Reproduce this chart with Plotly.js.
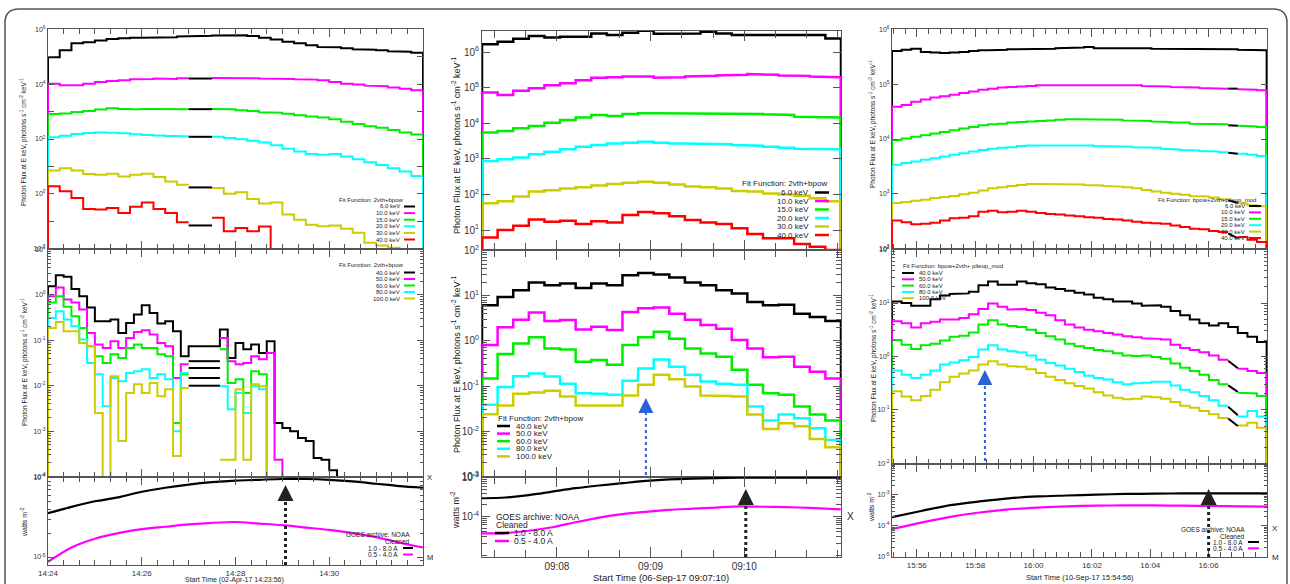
<!DOCTYPE html>
<html><head><meta charset="utf-8">
<script src="https://cdn.plot.ly/plotly-3.0.1.min.js"></script>
<style>html,body{margin:0;padding:0;background:#fff;}#chart{width:1290px;height:584px;}</style>
</head><body><div id="chart"></div>
<script>
// ================= DATA (log10 of flux / GOES level) =================
// ---- Column 1: 02-Apr-17, start 14:24:00 ----
const c1Base = '2017-04-02 14:24:00';
const c1TopBinSec = 15;
const c1Top6keV  = [4.99,5.24,5.50,5.54,5.60,5.65,5.68,5.70,5.70,5.71,5.72,5.75,5.76,5.77,5.78,5.79,5.79,5.76,5.70,5.64,5.55,5.50,5.43,5.36,5.35,5.32,5.28,5.26,5.24,5.21,5.19,5.15];
const c1Top10keV = [4.02,3.96,3.96,4.02,4.08,4.12,4.15,4.18,4.19,4.21,4.19,4.22,null,null,4.23,4.24,4.23,4.22,4.21,4.21,4.19,4.18,4.17,4.15,4.08,4.02,3.99,3.95,3.93,3.88,3.84,3.78];
const c1Top15keV = [2.91,2.93,2.99,3.02,3.08,3.12,3.10,3.09,3.10,3.10,3.10,3.09,null,null,3.10,3.09,3.05,3.02,2.98,2.96,2.92,2.87,2.82,2.79,2.72,2.63,2.55,2.47,2.41,2.33,2.24,2.16];
const c1Top20keV = [2.06,2.12,2.18,2.22,2.24,2.23,2.21,2.17,2.15,2.13,2.11,2.10,null,null,2.08,2.04,1.99,1.94,1.87,1.77,1.64,1.54,1.45,1.42,1.45,1.36,1.26,1.15,1.05,0.93,0.81,0.65];
const c1Top30keV = [0.85,0.93,0.85,0.72,0.69,0.73,0.63,0.69,0.73,0.61,0.45,0.33,null,null,0.21,0.00,0.05,-0.19,-0.36,-0.32,-0.76,-0.95,-1.13,-1.19,-1.16,-1.28,-1.43,-1.79,-1.89,-1.97];
const c1Top40keV = [0.27,0.09,-0.16,-0.56,-0.58,-0.52,-0.70,-0.48,-0.32,-0.56,-0.70,-1.04,null,null,-0.88,-1.37,-1.25,-1.37,-1.20];
const c1TopGapBins = [12, 14];
const c1TopGapLog = [null, 4.21, 3.09, 2.08, 0.23, -1.16];

const c1MidBinSec = 10;
const c1Mid40keV  = [0.19,0.43,0.40,0.13,-0.03,-0.28,-0.58,-0.58,-0.54,-0.84,-0.62,-0.43,-0.23,-0.40,-0.63,-0.58,-0.80,-1.35,-1.13,-1.13,-1.13,-1.13,-0.76,-1.39,-1.06,-1.20,-1.09,-1.28,-1.02,-2.82,-2.93,-3.00,-3.15,-3.22,-3.59,-3.63,-3.86];
const c1Mid50keV  = [-0.03,0.16,-0.10,-0.17,-0.32,-0.84,-1.09,-1.17,-1.02,-1.17,-0.95,-0.82,-0.78,-0.87,-1.06,-1.13,-1.83,-1.53,null,null,null,null,-0.95,-1.46,-1.53,-1.50,-1.35,-1.42,-1.28,-3.63];
const c1Mid60keV  = [-0.17,-0.03,-0.26,-0.47,-0.73,-1.13,-1.35,-1.50,-1.31,-1.39,-1.17,-1.09,-1.17,-1.17,-1.31,-1.35,-2.82,-1.75,null,null,null,null,-1.20,-1.94,-1.86,-2.16,-1.68,-1.75];
const c1Mid80keV  = [-0.51,-0.36,-0.54,-0.69,-0.98,-1.50,-1.75,-2.45,-1.83,-1.90,-1.72,-1.68,-1.64,-1.83,-1.75,-1.86,-3.00,-1.72,null,null,null,null,-2.01,-2.52,-2.16,-2.60,-2.01,-2.08];
const c1Mid100keV = [-0.73,-0.60,-0.80,-0.80,-1.06,-1.13,-2.60,-4.5,-1.79,-3.22,-2.16,-1.97,-2.16,-1.94,-2.23,-2.08,-3.55,-2.05,null,null,null,null,-3.63,-3.63,-2.08,-3.63,-1.97,-2.01];
const c1MidGapBins = [18, 22];
const c1MidGapLog = [null, -1.46, -1.61, -1.83, -2.00];

const c1GoesMin   = [0,0.5,1,1.5,2,2.5,3,3.5,4,4.5,5,5.5,6,6.5,7,7.5,8];
const c1GoesLong  = [-4.45,-4.37,-4.30,-4.25,-4.18,-4.13,-4.09,-4.06,-4.04,-4.03,-4.02,-4.02,-4.03,-4.05,-4.08,-4.11,-4.13];
const c1GoesShort = [-5.06,-4.88,-4.77,-4.70,-4.65,-4.62,-4.59,-4.57,-4.56,-4.58,-4.60,-4.63,-4.66,-4.70,-4.75,-4.82,-4.88];
const c1TimeTicks = ['14:24','14:26','14:28','14:30'];

// ---- Column 2: 06-Sep-17, start 09:07:12 ----
const c2Base = '2017-09-06 09:07:12';
const c2BinSec = 10;
const c2Top6keV  = [6.22,6.29,6.37,6.45,6.41,6.43,6.43,6.52,6.48,6.54,6.60,6.51,6.52,6.52,6.57,6.52,6.48,6.46,6.46,6.46,6.48,6.48,6.38];
const c2Top10keV = [4.86,4.79,4.91,4.98,5.07,5.12,5.21,5.28,5.29,5.31,5.31,5.28,5.29,5.31,5.33,5.34,5.36,5.38,5.36,5.34,5.33,5.31,5.29];
const c2Top15keV = [3.74,3.78,3.86,3.92,4.01,4.09,4.16,4.23,4.20,4.26,4.28,4.28,4.27,4.27,4.26,4.26,4.27,4.26,4.25,4.23,4.18,4.16,4.16];
const c2Top20keV = [2.94,2.99,3.04,3.13,3.20,3.27,3.34,3.39,3.43,3.45,3.48,3.45,3.43,3.43,3.42,3.41,3.39,3.37,3.34,3.31,3.28,3.28,3.27];
const c2Top30keV = [1.75,1.81,1.94,2.08,2.12,2.17,2.20,2.25,2.29,2.33,2.36,2.33,2.28,2.22,2.20,2.17,2.10,2.08,2.03,2.00,1.96,1.89,1.81];
const c2Top40keV = [0.79,1.00,1.12,1.30,1.23,1.26,1.17,1.25,1.21,1.42,1.51,1.47,1.39,1.28,1.21,1.17,1.05,0.89,0.77,0.77,0.61,0.53,0.44];
const c2Mid40keV  = [0.79,0.97,1.12,1.29,1.23,1.27,1.17,1.27,1.23,1.45,1.50,1.47,1.40,1.29,1.23,1.12,1.05,0.86,0.79,0.80,0.60,0.53,0.44];
const c2Mid50keV  = [-0.09,0.30,0.47,0.63,0.44,0.46,0.25,0.31,0.24,0.64,0.72,0.74,0.60,0.47,0.35,0.27,0.02,-0.17,-0.36,-0.35,-0.57,-0.68,-0.83];
const c2Mid60keV  = [-0.83,-0.29,-0.06,0.08,-0.17,-0.19,-0.46,-0.42,-0.53,-0.09,0.08,0.20,0.05,-0.17,-0.28,-0.35,-0.64,-0.97,-1.16,-1.19,-1.45,-1.63,-1.76];
const c2Mid80keV  = [-1.41,-1.02,-0.78,-0.72,-0.79,-0.95,-1.16,-1.17,-1.19,-0.88,-0.61,-0.41,-0.57,-0.75,-0.90,-0.95,-0.97,-1.45,-1.76,-1.63,-1.71,-1.93,-2.19];
const c2Mid100keV = [-1.62,-1.43,-1.17,-1.14,-1.10,-1.23,-1.43,-1.43,-1.43,-1.21,-0.97,-0.75,-0.85,-1.01,-1.21,-1.22,-1.23,-1.63,-1.95,-1.82,-1.89,-2.17,-2.35];
const c2GoesMin   = [0,0.25,0.5,0.75,1,1.25,1.5,1.75,2,2.25,2.5,2.75,3,3.25,3.5,3.83];
const c2GoesLong  = [-3.53,-3.51,-3.45,-3.36,-3.27,-3.20,-3.14,-3.08,-3.04,-3.02,-3.01,-3.00,-3.00,-3.00,-3.00,-3.00];
const c2GoesShort = [-4.44,-4.43,-4.37,-4.28,-4.15,-4.03,-3.94,-3.88,-3.83,-3.80,-3.77,-3.74,-3.75,-3.76,-3.78,-3.82];
const c2TimeTicks = ['09:08','09:09','09:10'];

// ---- Column 3: 10-Sep-17, start 15:55:09 ----
const c3Base = '2017-09-10 15:55:09';
const c3BinSec = 19.75;
const c3Top6keV  = [5.61,5.63,5.65,5.59,5.58,5.57,5.58,5.59,5.61,5.62,5.62,5.63,5.64,5.64,5.65,5.65,5.65,5.66,5.67,5.67,5.68,5.66,5.66,5.67,5.67,5.66,5.66,5.65,5.65,5.64,5.64,5.64,5.64,5.65,5.64,5.64,5.63,5.62,5.62];
const c3Top10keV = [4.59,4.62,4.68,4.72,4.76,4.78,4.81,4.84,4.87,4.90,4.92,4.94,4.95,4.96,4.97,4.98,4.98,4.99,4.99,4.99,4.99,4.99,4.99,4.98,4.98,4.98,4.97,4.96,4.96,4.95,4.95,4.94,4.93,4.93,4.92,null,4.91,4.90,4.89];
const c3Top15keV = [3.98,4.01,4.04,4.07,4.10,4.13,4.16,4.19,4.22,4.25,4.27,4.28,4.30,4.31,4.32,4.33,4.34,4.35,4.36,4.36,4.35,4.35,4.35,4.35,4.34,4.33,4.33,4.32,4.31,4.30,4.30,4.28,4.28,4.27,4.27,null,4.24,4.23,4.22];
const c3Top20keV = [3.53,3.56,3.59,3.62,3.65,3.68,3.71,3.74,3.77,3.80,3.82,3.84,3.85,3.87,3.88,3.88,3.89,3.89,3.89,3.88,3.88,3.87,3.87,3.86,3.86,3.85,3.84,3.84,3.82,3.81,3.80,3.79,3.78,3.77,3.76,null,3.73,3.71,3.69];
const c3Top30keV = [2.83,2.85,2.87,2.89,2.92,2.94,2.96,2.99,3.02,3.06,3.10,3.12,3.14,3.16,3.18,3.18,3.17,3.17,3.18,3.17,3.16,3.15,3.14,3.13,3.12,3.10,3.07,3.04,3.02,3.00,2.98,2.96,2.95,2.93,2.90,null,2.82,2.79,2.77];
const c3Top40keV = [2.51,2.48,2.44,2.45,2.47,2.51,2.55,2.56,2.59,2.67,2.69,2.66,2.67,2.69,2.67,2.65,2.63,2.62,2.60,2.59,2.57,2.56,2.54,2.53,2.51,2.49,2.47,2.46,2.45,2.42,2.39,2.36,2.35,2.32,2.30,null,2.21,2.16,2.12];
const c3TopGapBins = [35, 36];
const c3TopGapStart = [null, 4.92, 4.25, 3.75, 2.88, 2.27];
const c3TopGapEnd   = [null, 4.92, 4.24, 3.73, 2.83, 2.19];
const c3Mid40keV  = [1.03,1.00,0.95,0.95,1.07,1.14,1.17,1.18,1.21,1.33,1.40,1.34,1.34,1.40,1.37,1.35,1.29,1.26,1.23,1.19,1.16,1.10,1.07,1.03,1.03,0.99,0.95,0.96,0.93,0.85,0.77,0.69,0.62,0.58,0.62,0.55,0.44,0.37,0.27];
const c3Mid50keV  = [0.66,0.62,0.54,0.62,0.65,0.69,0.69,0.72,0.79,0.89,0.99,0.93,0.88,0.89,0.87,0.82,0.77,0.68,0.60,0.54,0.50,0.47,0.44,0.41,0.38,0.36,0.34,0.33,0.32,0.22,0.16,0.12,0.08,0.02,-0.06,null,-0.23,-0.27,-0.31];
const c3Mid60keV  = [0.31,0.22,0.14,0.21,0.24,0.30,0.37,0.39,0.45,0.60,0.68,0.60,0.57,0.55,0.50,0.44,0.38,0.32,0.24,0.19,0.16,0.12,0.10,0.06,0.02,0.01,0.02,-0.01,-0.04,-0.13,-0.21,-0.27,-0.34,-0.44,-0.52,null,-0.68,-0.69,-0.74];
const c3Mid80keV  = [-0.26,-0.34,-0.40,-0.34,-0.26,-0.15,-0.11,-0.07,-0.01,0.13,0.21,0.13,0.10,0.08,0.02,-0.06,-0.12,-0.17,-0.23,-0.29,-0.36,-0.40,-0.43,-0.48,-0.52,-0.50,-0.49,-0.47,-0.47,-0.54,-0.62,-0.67,-0.74,-0.82,-0.92,null,-1.12,-1.02,-1.12];
const c3Mid100keV = [-0.65,-0.75,-0.82,-0.74,-0.62,-0.48,-0.38,-0.32,-0.26,-0.15,-0.09,-0.15,-0.18,-0.19,-0.24,-0.31,-0.38,-0.44,-0.50,-0.55,-0.60,-0.67,-0.73,-0.77,-0.80,-0.79,-0.75,-0.76,-0.79,-0.85,-0.92,-0.96,-1.02,-1.08,-1.15,null,-1.29,-1.24,-1.33];
const c3MidGapStart = [null, -0.08, -0.54, -0.94, -1.16];
const c3MidGapEnd   = [null, -0.22, -0.66, -1.10, -1.30];
const c3GoesMin   = [0,1,2,3,4,5,6,7,8,9,10,11,12,12.85];
const c3GoesLong  = [-3.72,-3.52,-3.33,-3.21,-3.11,-3.05,-3.02,-2.99,-2.97,-2.96,-2.95,-2.95,-2.95,-2.95];
const c3GoesShort = [-4.11,-3.90,-3.71,-3.57,-3.47,-3.41,-3.37,-3.35,-3.34,-3.34,-3.35,-3.36,-3.37,-3.38];
const c3TimeTicks = ['15:56','15:58','16:00','16:02','16:04','16:06'];

const topLabels = ['6.0 keV','10.0 keV','15.0 keV','20.0 keV','30.0 keV','40.0 keV'];
const midLabels = ['40.0 keV','50.0 keV','60.0 keV','80.0 keV','100.0 keV'];
const goesLabels = ['1.0 - 8.0 A','0.5 - 4.0 A'];

// ================= STYLE / HELPERS =================
const FONT = 'Liberation Sans, Arial, Helvetica, sans-serif';
const W = 1290, H = 584;
const px = x => x / W, py = y => 1 - y / H;
const TOPC = ['#000000','#ff00ff','#00ee00','#00ffff','#cccc00','#ff0000'];
const MIDC = ['#000000','#ff00ff','#00ee00','#00ffff','#cccc00'];
const GOESC = ['#000000','#ff00ff'];

function timeAt(base, sec) {
  const [d, t] = base.split(' ');
  const [Y, M, D] = d.split('-').map(Number);
  const [h, m, s] = t.split(':').map(Number);
  const dt = new Date(Date.UTC(Y, M - 1, D, h, m, s) + Math.round(sec * 1000));
  const p = (n, l) => String(n).padStart(l || 2, '0');
  return dt.getUTCFullYear() + '-' + p(dt.getUTCMonth() + 1) + '-' + p(dt.getUTCDate()) + ' ' +
    p(dt.getUTCHours()) + ':' + p(dt.getUTCMinutes()) + ':' + p(dt.getUTCSeconds()) + '.' + p(dt.getUTCMilliseconds(), 3);
}
const LOW = 1e-12;
function stepXY(base, binSec, vals) {
  const x = [], y = [];
  const first = vals.findIndex(v => v !== null);
  x.push(timeAt(base, first * binSec)); y.push(LOW);
  let last = first;
  vals.forEach((v, k) => {
    if (v === null) { x.push(null); y.push(null); return; }
    const f = Math.pow(10, v);
    x.push(timeAt(base, k * binSec), timeAt(base, (k + 1) * binSec));
    y.push(f, f);
    last = k;
  });
  x.push(timeAt(base, (last + 1) * binSec)); y.push(LOW);
  return {x, y};
}
const traces = [];
function addSteps(id, base, binSec, list, colors, width) {
  list.forEach((vals, i) => {
    const s = stepXY(base, binSec, vals);
    traces.push({type:'scatter', mode:'lines', x:s.x, y:s.y, xaxis:'x' + id, yaxis:'y' + id,
      line:{color:colors[i], width:width}, connectgaps:false, hoverinfo:'skip'});
  });
}
function addGaps(id, base, binSec, bins, startLog, endLog, width) {
  startLog.forEach((v, i) => {
    if (v === null) return;
    traces.push({type:'scatter', mode:'lines', x:[timeAt(base, bins[0] * binSec), timeAt(base, bins[1] * binSec)],
      y:[Math.pow(10, v), Math.pow(10, endLog[i])], xaxis:'x' + id, yaxis:'y' + id,
      line:{color:'#000', width:width}, hoverinfo:'skip'});
  });
}
function addGoes(id, base, mins, list, width) {
  list.forEach((vals, i) => {
    traces.push({type:'scatter', mode:'lines', x:mins.map(m => timeAt(base, m * 60)), y:vals.map(v => Math.pow(10, v)),
      xaxis:'x' + id, yaxis:'y' + id, line:{color:GOESC[i], width:width, shape:'spline', smoothing:0.8}, hoverinfo:'skip'});
  });
}

// Column 1
addSteps(1, c1Base, c1TopBinSec, [c1Top6keV, c1Top10keV, c1Top15keV, c1Top20keV, c1Top30keV, c1Top40keV], TOPC, 2);
addGaps(1, c1Base, c1TopBinSec, c1TopGapBins, c1TopGapLog, c1TopGapLog, 2);
addSteps(2, c1Base, c1MidBinSec, [c1Mid40keV, c1Mid50keV, c1Mid60keV, c1Mid80keV, c1Mid100keV], MIDC, 2);
addGaps(2, c1Base, c1MidBinSec, c1MidGapBins, c1MidGapLog, c1MidGapLog, 2);
addGoes(3, c1Base, c1GoesMin, [c1GoesLong, c1GoesShort], 2.2);
// Column 2
addSteps(4, c2Base, c2BinSec, [c2Top6keV, c2Top10keV, c2Top15keV, c2Top20keV, c2Top30keV, c2Top40keV], TOPC, 2.5);
addSteps(5, c2Base, c2BinSec, [c2Mid40keV, c2Mid50keV, c2Mid60keV, c2Mid80keV, c2Mid100keV], MIDC, 2.5);
addGoes(6, c2Base, c2GoesMin, [c2GoesLong, c2GoesShort], 2.2);
// Column 3
addSteps(7, c3Base, c3BinSec, [c3Top6keV, c3Top10keV, c3Top15keV, c3Top20keV, c3Top30keV, c3Top40keV], TOPC, 2);
addGaps(7, c3Base, c3BinSec, c3TopGapBins, c3TopGapStart, c3TopGapEnd, 2);
addSteps(8, c3Base, c3BinSec, [c3Mid40keV, c3Mid50keV, c3Mid60keV, c3Mid80keV, c3Mid100keV], MIDC, 2);
addGaps(8, c3Base, c3BinSec, c3TopGapBins, c3MidGapStart, c3MidGapEnd, 2);
addGoes(9, c3Base, c3GoesMin, [c3GoesLong, c3GoesShort], 2.2);

// ================= LAYOUT =================
const geom = {
  1:{x:[48,423], y:[29,249]}, 2:{x:[48,423], y:[249,477]}, 3:{x:[48,423], y:[477,565]},
  4:{x:[482,841], y:[31,250]}, 5:{x:[482,841], y:[250,477]}, 6:{x:[482,841], y:[477,557]},
  7:{x:[892,1267], y:[29,249]}, 8:{x:[892,1267], y:[249,464]}, 9:{x:[892,1267], y:[464,557]}
};
const colSpec = [
  {ids:[1,2,3], day:'2017-04-02', ticks:c1TimeTicks, xr:['2017-04-02 14:24:00','2017-04-02 14:32:00'], mtick0:'2017-04-02 14:24:00', minor:20000, tf:7, xtf:8, tl:6},
  {ids:[4,5,6], day:'2017-09-06', ticks:c2TimeTicks, xr:['2017-09-06 09:07:12','2017-09-06 09:11:02'], mtick0:'2017-09-06 09:08:00', minor:20000, tf:10, xtf:10, tl:8},
  {ids:[7,8,9], day:'2017-09-10', ticks:c3TimeTicks, xr:['2017-09-10 15:55:09','2017-09-10 16:08:00'], mtick0:'2017-09-10 15:56:00', minor:24000, tf:7, xtf:8, tl:6}
];
// major decades that carry a label; unlabeled decades get a plain tick
const ySpec = {
  1:{r:[-2.02,6.02], lab:[-2,0,2,4,6], plain:[-1,1,3,5], minor:false},
  2:{r:[-4.01,1.01], lab:[-4,-3,-2,-1,0,1], plain:[], minor:true},
  3:{r:[-5.1,-3.995], lab:[-5,-4], plain:[], minor:true},
  4:{r:[0.44,6.59], lab:[1,2,3,4,5,6], plain:[], minor:false},
  5:{r:[-3.01,2.01], lab:[-3,-2,-1,0,1,2], plain:[], minor:true},
  6:{r:[-5.05,-2.98], lab:[-4,-3], plain:[-5], minor:true},
  7:{r:[1.99,6.01], lab:[2,3,4,5,6], plain:[], minor:false},
  8:{r:[-2.01,2.01], lab:[-2,-1,0,1,2], plain:[], minor:true},
  9:{r:[-5.01,-2.0], lab:[-5,-4,-3], plain:[-2], minor:true}
};
const AX = '#555';
const layout = {width:W, height:H, margin:{l:0,r:0,t:0,b:0}, paper_bgcolor:'#fff', plot_bgcolor:'#fff',
  showlegend:false, font:{family:FONT, color:'#222'}, shapes:[], annotations:[]};

colSpec.forEach(cs => {
  cs.ids.forEach((id, row) => {
    const g = geom[id], ys = ySpec[id];
    layout['xaxis' + id] = {type:'date', domain:[px(g.x[0]), px(g.x[1])], range:cs.xr, anchor:'y' + id,
      tickmode:'array', tickvals:cs.ticks.map(t => cs.day + ' ' + t + ':00'), ticktext:cs.ticks,
      showticklabels:row === 2,
      ticks:'inside', ticklen:cs.tl + 2, tickwidth:1, tickcolor:AX, showline:true, linecolor:AX, linewidth:1,
      mirror:'ticks', showgrid:false, zeroline:false, tickfont:{family:FONT, size:cs.xtf, color:'#333'},
      minor:{tickmode:'linear', dtick:cs.minor, tick0:cs.mtick0, ticks:'inside', ticklen:cs.tl - 1, tickcolor:AX, showgrid:false}};
    const lo = Math.floor(ys.r[0]), hi = Math.ceil(ys.r[1]);
    const mv = [];
    if (ys.minor) {
      for (let d = lo - 1; d <= hi; d++) for (let m = 2; m <= 9; m++) {
        const v = Math.log10(m) + d;
        if (v > ys.r[0] && v < ys.r[1]) mv.push(m * Math.pow(10, d));
      }
    }
    ys.plain.forEach(d => mv.push(Math.pow(10, d)));
    const ya = {type:'log', domain:[py(g.y[1]), py(g.y[0])], range:ys.r, anchor:'x' + id,
      tickmode:'array', tickvals:ys.lab.map(d => Math.pow(10, d)), ticktext:ys.lab.map(d => '10<sup>' + d + '</sup>'),
      ticks:'inside', ticklen:cs.tl, tickwidth:1, tickcolor:AX,
      showline:true, linecolor:AX, linewidth:1, mirror:'ticks', showgrid:false, zeroline:false,
      tickfont:{family:FONT, size:cs.tf, color:'#333'}};
    if (mv.length) ya.minor = {tickmode:'array', tickvals:mv, ticks:'inside',
      ticklen:ys.minor ? Math.max(3, cs.tl - 3) : cs.tl, tickcolor:AX, showgrid:false};
    layout['yaxis' + id] = ya;
  });
});

// -------- annotations & shapes --------
const A = layout.annotations, S = layout.shapes;
function txt(text, x, y, size, xa, extra) {
  A.push(Object.assign({text:text, x:px(x), y:py(y), xref:'paper', yref:'paper', showarrow:false,
    xanchor:xa || 'left', yanchor:'middle', font:{family:FONT, size:size, color:'#222'}}, extra || {}));
}
function seg(x0, y0, x1, y1, color, width, dash) {
  S.push({type:'line', xref:'paper', yref:'paper', x0:px(x0), y0:py(y0), x1:px(x1), y1:py(y1),
    line:{color:color, width:width, dash:dash || 'solid'}});
}
const YT = 'Photon Flux at E keV, photons s<sup>-1</sup> cm<sup>-2</sup> keV<sup>-1</sup>';
txt(YT, 24, 142, 6.5, 'center', {textangle:-90});
txt(YT, 24, 362, 6.5, 'center', {textangle:-90});
txt(YT, 456, 145, 9, 'center', {textangle:-90});
txt(YT, 456, 364, 9, 'center', {textangle:-90});
txt(YT, 873, 124, 6.5, 'center', {textangle:-90});
txt(YT, 873, 358, 6.5, 'center', {textangle:-90});
txt('watts m<sup>-2</sup>', 24, 522, 7, 'center', {textangle:-90});
txt('watts m<sup>-2</sup>', 455, 510, 9, 'center', {textangle:-90});
txt('watts m<sup>-2</sup>', 871, 507, 7, 'center', {textangle:-90});
txt('Start Time (02-Apr-17 14:23:56)', 234, 580, 7, 'center');
txt('Start Time (06-Sep-17 09:07:10)', 661, 577.5, 9.5, 'center');
txt('Start Time (10-Sep-17 15:54:56)', 1080, 577.5, 7.5, 'center');
txt('X', 425, 477, 7.5, 'left'); txt('M', 425, 557, 7.5, 'left');
txt('X', 845, 516, 10, 'left');
txt('X', 1270, 528, 8, 'left'); txt('M', 1270, 557, 8, 'left');

// legend: col1 top
txt('Fit Function: 2vth+bpow', 406, 200, 6, 'right');
topLabels.forEach((l, i) => { const y = 206.5 + i * 6.6; txt(l, 402, y, 6, 'right'); seg(404, y, 415, y, TOPC[i], 2); });
// legend: col1 middle
txt('Fit Function: 2vth+bpow', 406, 265, 6, 'right');
midLabels.forEach((l, i) => { const y = 272.5 + i * 6.5; txt(l, 402, y, 6, 'right'); seg(404, y, 415, y, MIDC[i], 2); });
// legend: col1 GOES
txt('GOES archive: NOAA', 412, 534, 6.5, 'right'); txt('Cleaned', 412, 541, 6.5, 'right');
goesLabels.forEach((l, i) => { const y = 548 + i * 6.5; txt(l, 400, y, 6.5, 'right'); seg(403, y, 413, y, GOESC[i], 2); });
// legend: col2 top
txt('Fit Function: 2vth+bpow', 829, 184, 8, 'right');
topLabels.forEach((l, i) => { const y = 192.5 + i * 8.5; txt(l, 811, y, 8, 'right'); seg(815, y, 829, y, TOPC[i], 2.5); });
// legend: col2 middle
txt('Fit Function: 2vth+bpow', 496, 418, 8, 'left');
midLabels.forEach((l, i) => { const y = 426 + i * 7.6; txt(l, 514, y, 8, 'left'); seg(497, y, 510, y, MIDC[i], 2.5); });
// legend: col2 GOES
txt('GOES archive: NOAA', 494, 517, 8.5, 'left'); txt('Cleaned', 494, 525, 8.5, 'left');
goesLabels.forEach((l, i) => { const y = 533 + i * 8; txt(l, 512, y, 8.5, 'left'); seg(495, y, 509, y, GOESC[i], 2.5); });
// legend: col3 top
txt('Fit Function: bpow+2vth+pileup_mod', 1258, 200, 6, 'right');
topLabels.forEach((l, i) => { const y = 206 + i * 6.4; txt(l, 1247, y, 6, 'right'); seg(1249, y, 1261, y, TOPC[i], 2); });
// legend: col3 middle
txt('Fit Function: bpow+2vth+ pileup_mod', 901, 266, 6, 'left');
midLabels.forEach((l, i) => { const y = 273 + i * 6.3; txt(l, 917, y, 6, 'left'); seg(902, y, 914, y, MIDC[i], 2); });
// legend: col3 GOES
txt('GOES archive: NOAA', 1247, 529, 6.5, 'right'); txt('Cleaned', 1247, 536, 6.5, 'right');
goesLabels.forEach((l, i) => { const y = 542 + i * 6.3; txt(l, 1245, y, 6.5, 'right'); seg(1248, y, 1259, y, GOESC[i], 2); });

// arrows (time position on data axis, vertical in paper)
function arrow(xaxisId, time, yTip, yTail, color, w, headW) {
  S.push({type:'line', xref:'x' + xaxisId, yref:'paper', x0:time, x1:time, y0:py(yTail), y1:py(yTip + 8),
    line:{color:color, width:w, dash:'dot'}});
  A.push({xref:'x' + xaxisId, yref:'paper', x:time, y:py(yTip), ax:0, ay:12, text:'', showarrow:true,
    arrowhead:2, arrowsize:headW, arrowwidth:2, arrowcolor:color});
}
arrow(3, '2017-04-02 14:29:04', 485, 565, '#222', 3, 1.6);
arrow(6, '2017-09-06 09:10:01', 489, 557, '#222', 3, 1.6);
arrow(9, '2017-09-10 16:06:00', 489, 557, '#222', 3, 1.6);
arrow(5, '2017-09-06 09:08:57', 398, 475, '#2a62d6', 2, 1.5);
arrow(8, '2017-09-10 15:58:20', 370, 461, '#2a62d6', 2, 1.5);

// outer rounded frame
const r = 14, L = 5, T = 9, R = 1287;
S.push({type:'path', xref:'paper', yref:'paper', line:{color:'#555', width:1.5},
  path:`M ${px(L)},${py(600)} L ${px(L)},${py(T + r)} Q ${px(L)},${py(T)} ${px(L + r)},${py(T)} L ${px(R - r)},${py(T)} Q ${px(R)},${py(T)} ${px(R)},${py(T + r)} L ${px(R)},${py(600)}`});

Plotly.newPlot('chart', traces, layout, {staticPlot:true, displayModeBar:false});
</script></body></html>
